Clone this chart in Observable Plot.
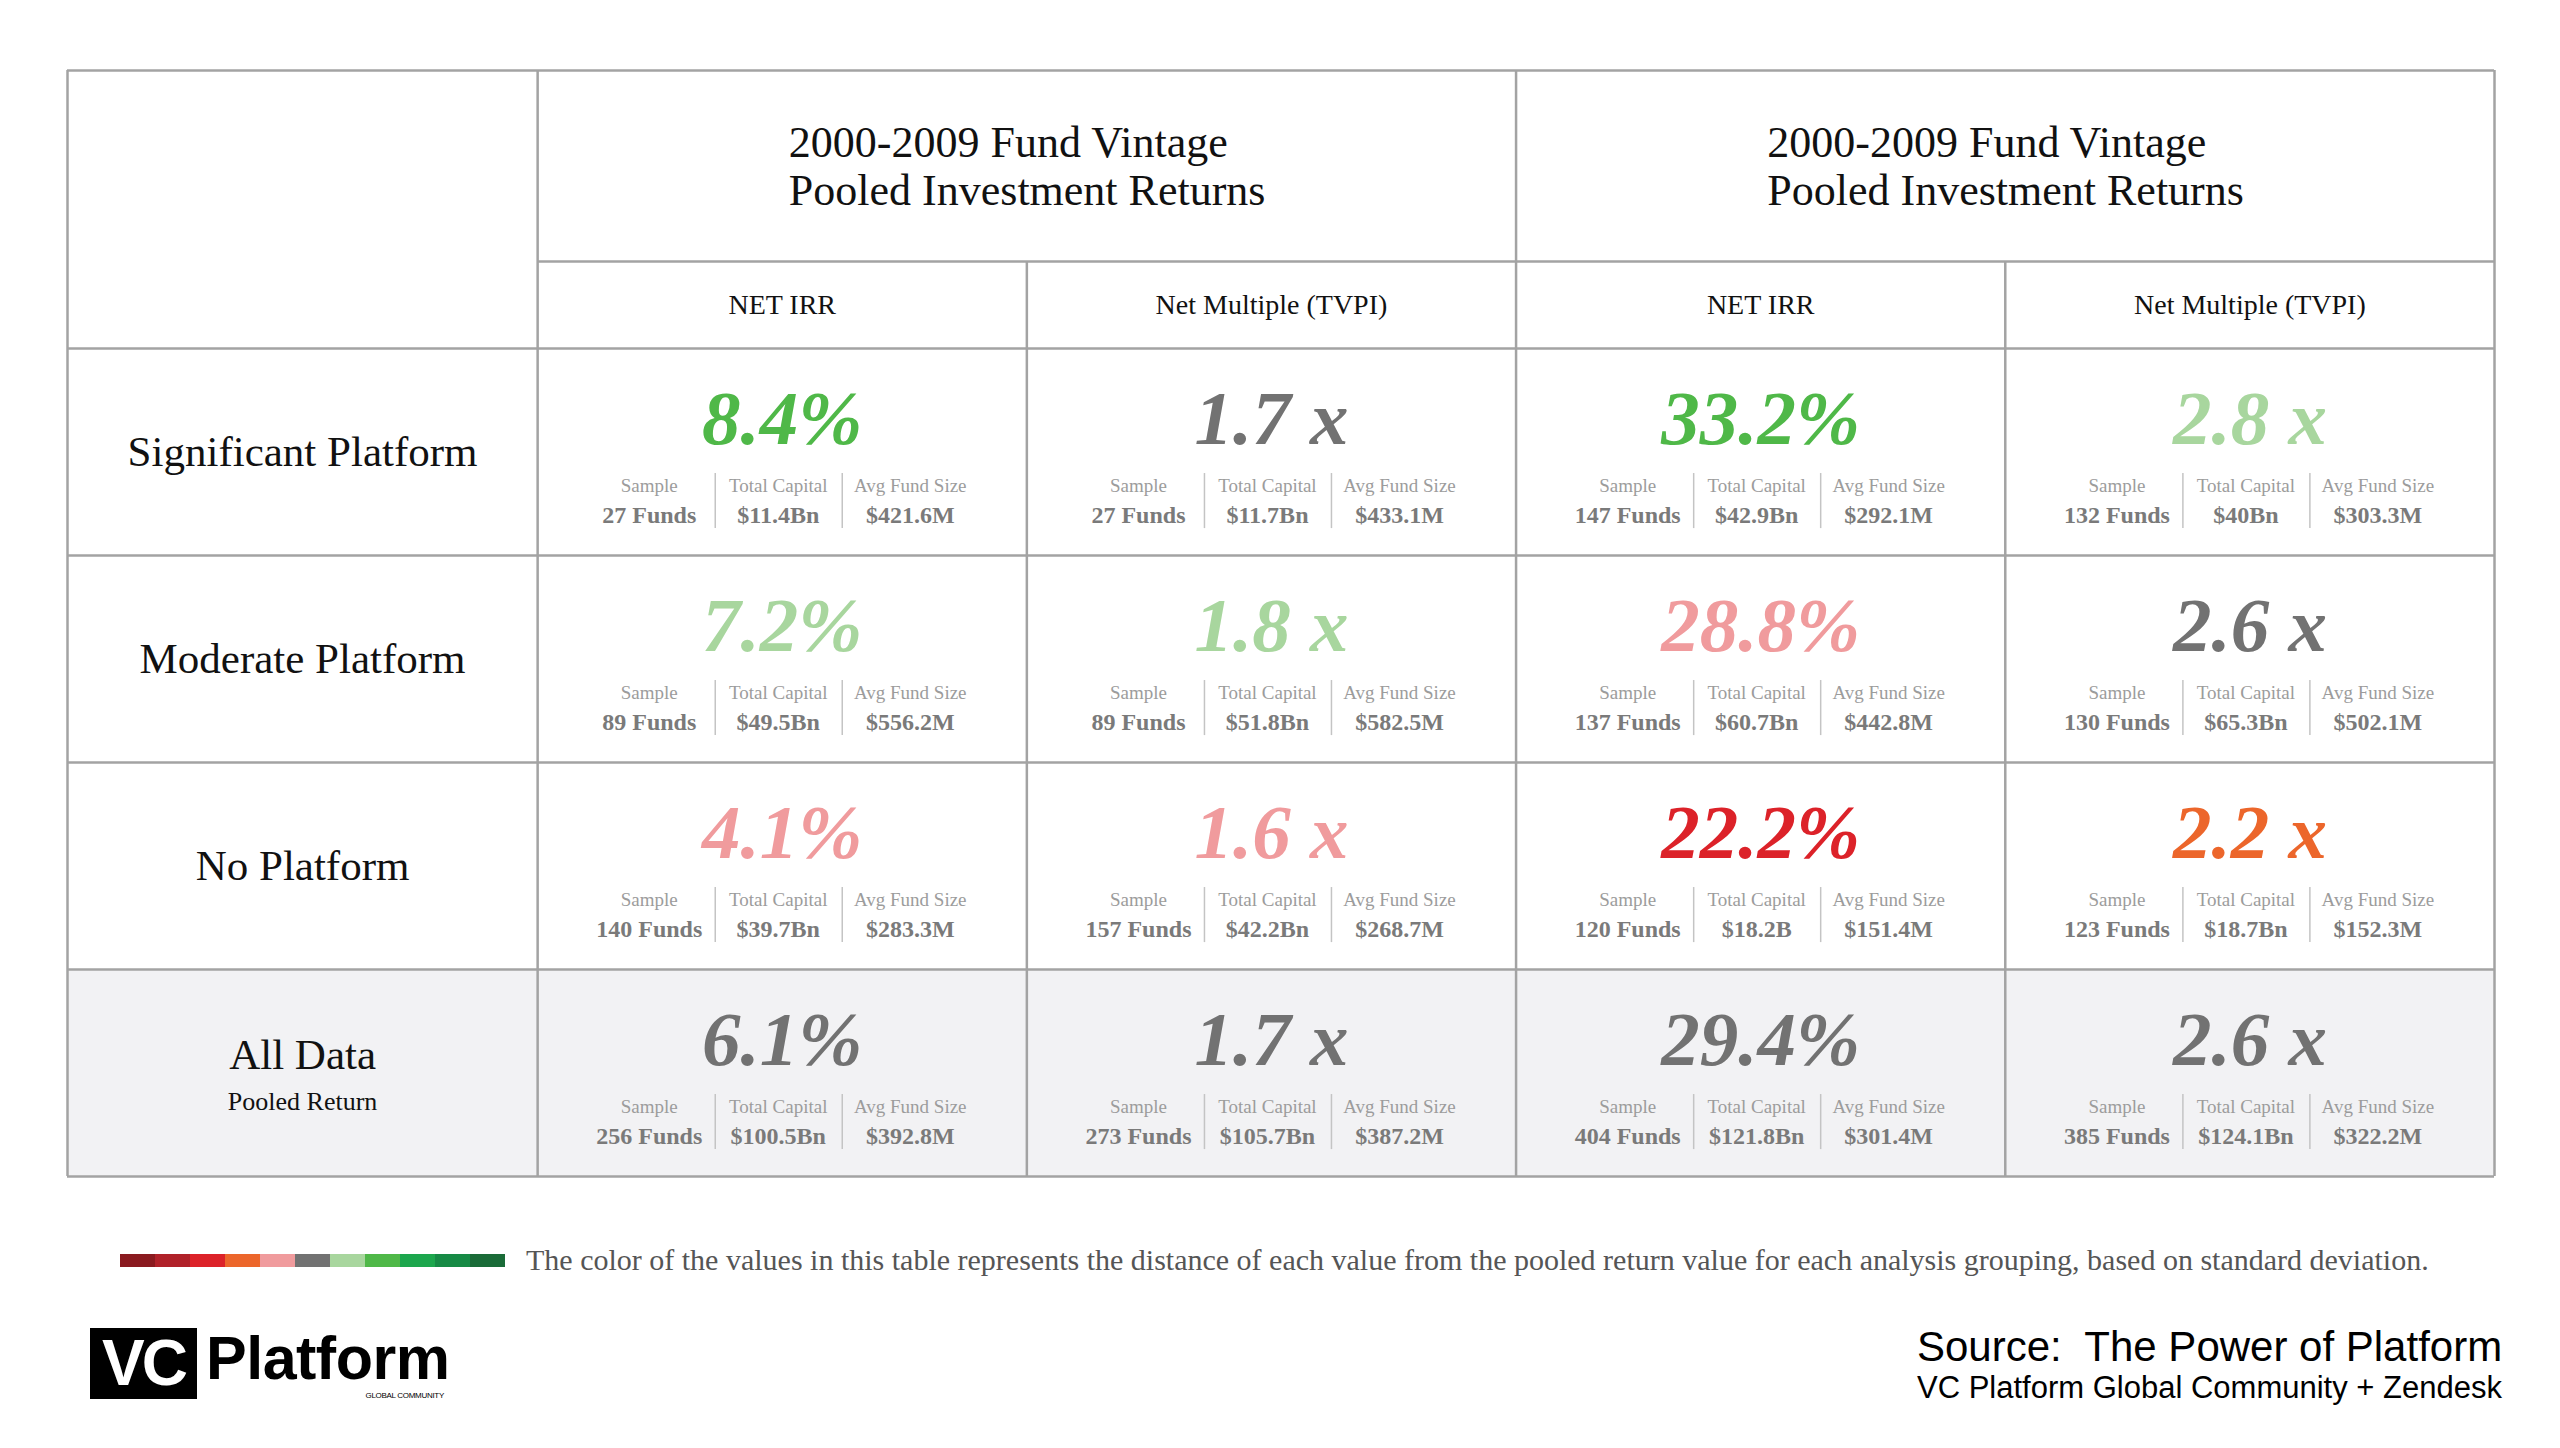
<!DOCTYPE html>
<html>
<head>
<meta charset="utf-8">
<script src="https://cdn.jsdelivr.net/npm/d3@7"></script>
<script src="https://cdn.jsdelivr.net/npm/@observablehq/plot@0.6"></script>
<style>
  html, body { margin: 0; padding: 0; background: #fff; overflow: hidden; }
  #page { position: relative; width: 2560px; height: 1448px; }
  #table { position: absolute; left: 0; top: 0; }
  #legend { position: absolute; left: 119px; top: 1254px; }
  #legendText { position: absolute; left: 526px; top: 1245px; font-family: "Liberation Serif", serif; font-size: 30px; line-height: 30px; color: #555; white-space: nowrap; }
  #logoBox { position: absolute; left: 90px; top: 1328px; width: 107px; height: 71px; background: #000; color: #fff;
             font-family: "Liberation Sans", Arial, sans-serif; font-weight: bold; font-size: 64px; line-height: 71px; text-align: center; letter-spacing: -3px; }
  #logoWord { position: absolute; left: 206px; top: 1328px; font-family: "Liberation Sans", Arial, sans-serif; font-weight: bold; font-size: 61px; line-height: 61px; letter-spacing: -0.5px; color: #000; }
  #logoSub { position: absolute; left: 340px; top: 1391px; width: 104px; text-align: right; font-family: "Liberation Sans", Arial, sans-serif; font-size: 8px; line-height: 10px; color: #000; letter-spacing: -0.3px; }
  #src1 { position: absolute; left: 1917px; top: 1326px; font-family: "Liberation Sans", Arial, sans-serif; font-size: 42px; line-height: 42px; color: #000; white-space: nowrap; }
  #src2 { position: absolute; left: 1917px; top: 1372px; font-family: "Liberation Sans", Arial, sans-serif; font-size: 31px; line-height: 31px; color: #000; white-space: nowrap; }
</style>
</head>
<body>
<div id="page">
  <div id="table"></div>
  <div id="legend"></div>
  <div id="legendText">The color of the values in this table represents the distance of each value from the pooled return value for each analysis grouping, based on standard deviation.</div>
  <div id="logoBox">VC</div>
  <div id="logoWord">Platform</div>
  <div id="logoSub">GLOBAL COMMUNITY</div>
  <div id="src1">Source:&nbsp; The Power of Platform</div>
  <div id="src2">VC Platform Global Community + Zendesk</div>
</div>
<script>
// ---------------- DATA ----------------
const rowLabels = ["Significant Platform", "Moderate Platform", "No Platform", "All Data"];
const rowNotes = ["", "", "", "Pooled Return"];
const groupTitles = [
  "2000-2009 Fund Vintage\nPooled Investment Returns",
  "2000-2009 Fund Vintage\nPooled Investment Returns"
];
const metricLabels = ["NET IRR", "Net Multiple (TVPI)", "NET IRR", "Net Multiple (TVPI)"];
const metricUnits = ["%", " x", "%", " x"];
// one list per column, rows in rowLabels order
const returnValues = [
  [8.4, 7.2, 4.1, 6.1],
  [1.7, 1.8, 1.6, 1.7],
  [33.2, 28.8, 22.2, 29.4],
  [2.8, 2.6, 2.2, 2.6]
];
// distance from pooled value in standard-deviation bands (-5 .. +5)
const deviationBands = [
  [2, 1, -1, 0],
  [0, 1, -1, 0],
  [2, -1, -3, 0],
  [1, 0, -2, 0]
];
const sampleFunds = [
  [27, 89, 140, 256],
  [27, 89, 157, 273],
  [147, 137, 120, 404],
  [132, 130, 123, 385]
];
const totalCapital = [
  ["$11.4Bn", "$49.5Bn", "$39.7Bn", "$100.5Bn"],
  ["$11.7Bn", "$51.8Bn", "$42.2Bn", "$105.7Bn"],
  ["$42.9Bn", "$60.7Bn", "$18.2B", "$121.8Bn"],
  ["$40Bn", "$65.3Bn", "$18.7Bn", "$124.1Bn"]
];
const avgFundSize = [
  ["$421.6M", "$556.2M", "$283.3M", "$392.8M"],
  ["$433.1M", "$582.5M", "$268.7M", "$387.2M"],
  ["$292.1M", "$442.8M", "$151.4M", "$301.4M"],
  ["$303.3M", "$502.1M", "$152.3M", "$322.2M"]
];
const statLabels = ["Sample", "Total Capital", "Avg Fund Size"];
const bandLevels = [-5, -4, -3, -2, -1, 0, 1, 2, 3, 4, 5];
const bandColors = ["#8a1a1f", "#b02129", "#dc2229", "#ec662b", "#f09b9d", "#727272",
                    "#a8d69e", "#4fb848", "#1ca64d", "#168a45", "#1a6b38"];

// ---------------- LAYOUT ----------------
const labelColWidth = 0.961;   // in column units
const groupHeaderH = 0.923;    // in row units
const subHeaderH = 0.42;
const nCols = metricLabels.length, nRows = rowLabels.length;
const xMin = -labelColWidth, xMax = nCols;
const yMin = -(groupHeaderH + subHeaderH), ySub = -subHeaderH, yMax = nRows;

const cells = [];
for (let c = 0; c < nCols; c++) {
  for (let r = 0; r < nRows; r++) {
    cells.push({
      col: c, row: r,
      label: returnValues[c][r].toFixed(1) + metricUnits[c],
      band: deviationBands[c][r],
      sample: sampleFunds[c][r] + " Funds",
      capital: totalCapital[c][r],
      avg: avgFundSize[c][r]
    });
  }
}

// grid lines from the layout
const hLines = [yMin, ...d3.range(0, nRows + 1)].map(y => ({y, x1: xMin, x2: xMax}));
hLines.push({y: ySub, x1: 0, x2: xMax});
const vLines = [xMin, 0, ...d3.range(2, nCols + 1, 2)].map(x => ({x, y1: yMin, y2: yMax}));
d3.range(1, nCols, 2).forEach(x => vLines.push({x, y1: ySub, y2: yMax}));

const colorScale = {type: "ordinal", domain: bandLevels, range: bandColors};
const serif = "Liberation Serif";
const statDx = [-133, -4, 128];
const sepDx = [-67, 60];

const marks = [
  Plot.rect(rowLabels.map((d, i) => i).filter(i => rowNotes[i]), {
    x1: xMin, x2: xMax, y1: i => i, y2: i => i + 1, fill: "#f2f2f4"
  }),
  Plot.ruleY(hLines, {y: "y", x1: "x1", x2: "x2", stroke: "#a3a3a3", strokeWidth: 2.5}),
  Plot.ruleX(vLines, {x: "x", y1: "y1", y2: "y2", stroke: "#a3a3a3", strokeWidth: 2.5}),
  Plot.text(groupTitles, {
    x: (d, i) => i * 2 + 1, y: (yMin + ySub) / 2, text: d => d, textAnchor: "start", dx: -238,
    fontFamily: serif, fontSize: 44, lineHeight: 1.08, fill: "#111"
  }),
  Plot.text(metricLabels, {
    x: (d, i) => i + 0.5, y: ySub / 2, text: d => d,
    fontFamily: serif, fontSize: 28, fill: "#111"
  }),
  Plot.text(rowLabels, {
    x: xMin / 2, y: (d, i) => i + 0.5 - (rowNotes[i] ? 0.087 : 0), text: d => d,
    fontFamily: serif, fontSize: 43, fill: "#111"
  }),
  Plot.text(rowNotes, {
    x: xMin / 2, y: (d, i) => i + 0.64, text: d => d,
    fontFamily: serif, fontSize: 26, fill: "#111"
  }),
  Plot.text(cells, {
    x: d => d.col + 0.5, y: d => d.row + 0.5, text: "label", fill: "band",
    fontFamily: serif, fontSize: 77, fontWeight: "bold", fontStyle: "italic",
    lineAnchor: "bottom", dy: -8
  })
];
statLabels.forEach((s, k) => {
  marks.push(Plot.text(cells, {
    x: d => d.col + 0.5, y: d => d.row + 0.5, text: () => s,
    fontFamily: serif, fontSize: 19, fill: "#9c9c9c", lineAnchor: "bottom", dy: 40, dx: statDx[k]
  }));
  const key = ["sample", "capital", "avg"][k];
  marks.push(Plot.text(cells, {
    x: d => d.col + 0.5, y: d => d.row + 0.5, text: key,
    fontFamily: serif, fontSize: 24, fontWeight: "bold", fill: "#7a7a7a", lineAnchor: "bottom", dy: 71, dx: statDx[k]
  }));
});
sepDx.forEach(dx => {
  marks.push(Plot.ruleX(cells, {
    x: d => d.col + 0.5, y1: d => d.row + 0.604, y2: d => d.row + 0.87, dx,
    stroke: "#c4c4c4", strokeWidth: 1.5
  }));
});

const table = Plot.plot({
  width: 2560, height: 1200,
  marginLeft: 67, marginRight: 66, marginTop: 70, marginBottom: 24,
  x: {domain: [xMin, xMax], axis: null},
  y: {domain: [yMin, yMax], reverse: true, axis: null},
  color: colorScale,
  style: {background: "white", fontFamily: serif},
  marks
});
document.getElementById("table").append(table);

const legend = Plot.plot({
  width: 386, height: 13, margin: 0,
  x: {type: "band", domain: bandLevels, padding: 0, axis: null},
  color: colorScale,
  style: {background: "white"},
  marks: [Plot.cell(bandLevels, {x: d => d, fill: d => d, inset: 0})]
});
document.getElementById("legend").append(legend);
</script>
</body>
</html>
